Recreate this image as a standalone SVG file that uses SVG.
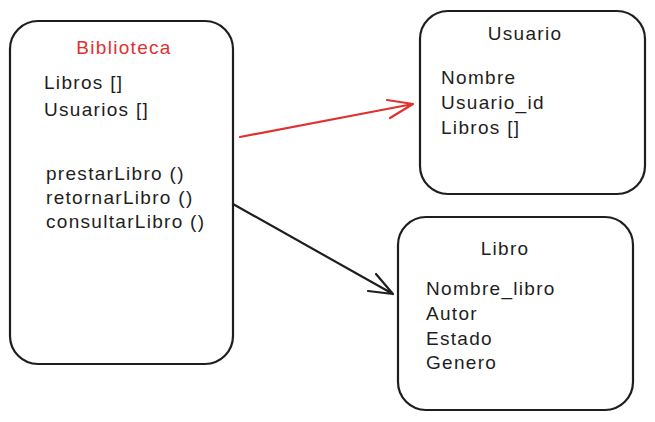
<svg xmlns="http://www.w3.org/2000/svg" width="655" height="422" viewBox="0 0 655 422">
<style>
.box{fill:#fff;stroke:#1e1e1e;stroke-width:2.2}
.t{font-family:"Liberation Sans","DejaVu Sans",sans-serif;font-size:19px;letter-spacing:1.3px;fill:#1e1e1e}
.c{text-anchor:middle}
.red{fill:#e03131}
.ln{fill:none;stroke-width:2.2;stroke-linecap:round;stroke-linejoin:round}
</style>
<rect width="655" height="422" fill="#fff"/>
<g id="biblioteca">
<rect class="box" x="10" y="21" width="223" height="343" rx="28"/>
<text class="t c red" x="124" y="54">Biblioteca</text>
<text class="t" x="44" y="89">Libros []</text>
<text class="t" x="44" y="116">Usuarios []</text>
<text class="t" x="46" y="180">prestarLibro ()</text>
<text class="t" x="46" y="204">retornarLibro ()</text>
<text class="t" x="46" y="228">consultarLibro ()</text>
</g>
<g id="usuario">
<rect class="box" x="420" y="11" width="225" height="183" rx="28"/>
<text class="t c" x="525" y="40">Usuario</text>
<text class="t" x="441" y="84">Nombre</text>
<text class="t" x="441" y="109">Usuario_id</text>
<text class="t" x="441" y="134">Libros []</text>
</g>
<g id="libro">
<rect class="box" x="398" y="217" width="235" height="193" rx="28"/>
<text class="t c" x="505" y="255">Libro</text>
<text class="t" x="426" y="295">Nombre_libro</text>
<text class="t" x="426" y="320">Autor</text>
<text class="t" x="426" y="345">Estado</text>
<text class="t" x="426" y="369">Genero</text>
</g>
<g id="connectors">
<path class="ln" stroke="#e03131" d="M240 137 L413 104 M387 100 L413 104 L390 118"/>
<path class="ln" stroke="#1e1e1e" d="M233 204 L393 294 M376 274 L393 294 L368 291"/>
</g>
</svg>
